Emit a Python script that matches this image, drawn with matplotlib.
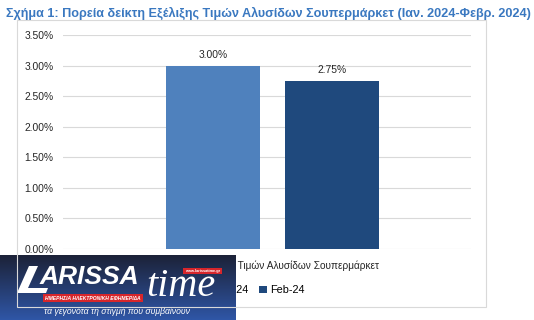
import numpy as np
import matplotlib.pyplot as plt
from matplotlib.patches import Rectangle, Polygon
from matplotlib.colors import LinearSegmentedColormap

plt.rcParams['font.family'] = ['Liberation Sans', 'DejaVu Sans']

title = 'Σχήμα 1: Πορεία δείκτη Εξέλιξης Τιμών Αλυσίδων Σουπερμάρκετ (Ιαν. 2024-Φεβρ. 2024)'
category = 'Δείκτης Εξέλιξης Τιμών Αλυσίδων Σουπερμάρκετ'
months = ['Jan-24', 'Feb-24']
values = [3.00, 2.75]
colors = ['#4f81bd', '#1f497d']
yticks = [0, 0.5, 1.0, 1.5, 2.0, 2.5, 3.0, 3.5]

fig = plt.figure(figsize=(5.34, 3.2), dpi=100)

# chart frame
fig.patches.append(Rectangle((17/534, 1-307/320), (486-17)/534, (307-20)/320,
                             transform=fig.transFigure, fill=False,
                             edgecolor='#d9d9d9', lw=0.8))

ax = fig.add_axes([63/534, 1-249/320, (471-63)/534, (249-35)/320])
x = np.arange(len(values))
bars = ax.bar(x, values, width=0.79, color=colors, label=months, zorder=3)
for xi, v in zip(x, values):
    ax.annotate('%.2f%%' % v, (xi, v), xytext=(0, 4), textcoords='offset points',
                ha='center', va='bottom', fontsize=7.4, color='#262626')

ax.set_xlim(-1.26, 2.17)
ax.set_ylim(0, 3.5)
ax.set_yticks(yticks)
ax.set_yticklabels(['%.2f%%' % t for t in yticks], fontsize=7.4, color='#262626')
ax.tick_params(axis='y', length=0, pad=7)
ax.set_xticks([1.395])
ax.set_xticklabels([category], fontsize=7.3, color='#262626', ha='right')
ax.tick_params(axis='x', length=0, pad=8)
ax.grid(axis='y', color='#d9d9d9', lw=0.8, zorder=0)
for s in ax.spines.values():
    s.set_visible(False)

ax.legend(handles=bars, labels=months, loc='center', bbox_to_anchor=(0.47, -0.192),
          ncol=2, frameon=False, fontsize=7.8, handlelength=0.7, handleheight=0.7,
          handletextpad=0.3, columnspacing=0.9)

fig.text(6/534, 1-13/320, title, fontsize=9.1, fontweight='bold', color='#3a78c0',
         va='center', ha='left')

# watermark logo
logo = fig.add_axes([0, 0, 236/534, 65/320])
logo.set_xlim(0, 236)
logo.set_ylim(0, 65)
logo.axis('off')
grad = np.linspace(0, 1, 64).reshape(-1, 1)
cmap = LinearSegmentedColormap.from_list('lg', ['#2f56a6', '#1c2238'])
logo.imshow(grad, extent=(0, 236, 0, 65), cmap=cmap, aspect='auto', origin='lower')
logo.add_patch(Polygon([(17, 27), (29, 54), (38, 54), (28, 32), (48, 32), (46, 27)],
                       closed=True, fc='white', ec='none'))
logo.text(40, 43, 'ARISSA', fontsize=19, fontweight='bold', style='italic',
          color='white', va='center', ha='left')
logo.text(146, 33, 'time', fontsize=29, style='italic', color='white',
          va='center', ha='left', family='Liberation Serif')
logo.add_patch(Rectangle((43, 18), 100, 8, fc='#d7262b', ec='none'))
logo.text(93, 22, 'ΗΜΕΡΗΣΙΑ ΗΛΕΚΤΡΟΝΙΚΗ ΕΦΗΜΕΡΙΔΑ', fontsize=3.6, fontweight='bold',
          style='italic', color='white', va='center', ha='center')
logo.add_patch(Rectangle((183, 46), 39, 6, fc='#d7262b', ec='none'))
logo.text(202.5, 49, 'www.larissatime.gr', fontsize=2.8, fontweight='bold',
          color='white', va='center', ha='center')
logo.text(117, 8.5, 'τα γεγονότα τη στιγμή που συμβαίνουν', fontsize=6.2,
          style='italic', color='white', va='center', ha='center')

fig.savefig('out.png', dpi=100)
